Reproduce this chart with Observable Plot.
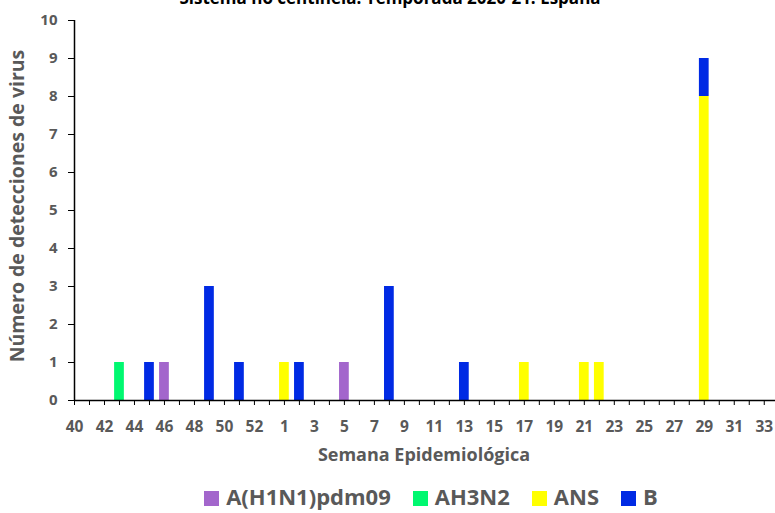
<!DOCTYPE html>
<html>
<head>
<meta charset="utf-8">
<script src="https://cdn.jsdelivr.net/npm/d3@7"></script>
<script src="https://cdn.jsdelivr.net/npm/@observablehq/plot@0.6"></script>
<style>
  html, body { margin: 0; padding: 0; background: #fff; overflow: hidden; }
  #wrap { position: relative; width: 775px; height: 513px; font-family: "Open Sans", sans-serif; }
  #title { position: absolute; top: -14px; left: 0; width: 780px; text-align: center; font-weight: 700; font-size: 17px; color: #000; z-index: 2; }
  #chart { position: absolute; top: 0; left: 0; z-index: 1; }
  #legend { position: absolute; top: 481px; left: 0; width: 862px; text-align: center; font-weight: 700; font-size: 22px; color: #595959; white-space: nowrap; z-index: 2; }
  #legend span.item { display: inline-block; margin: 0 11px; }
  #legend span.sw { display: inline-block; width: 15px; height: 15px; margin-right: 7px; vertical-align: -1px; }
</style>
</head>
<body>
<div id="wrap">
  <div id="title">Sistema no centinela. Temporada 2020-21. España</div>
  <div id="chart"></div>
  <div id="legend"></div>
</div>
<script>
// Semanas epidemiológicas (eje X)
const weeks = [40,41,42,43,44,45,46,47,48,49,50,51,52,53,1,2,3,4,5,6,7,8,9,10,11,12,13,14,15,16,17,18,19,20,21,22,23,24,25,26,27,28,29,30,31,32,33];
// Series
const series = ["A(H1N1)pdm09", "AH3N2", "ANS", "B"];
const colors = ["#A366CC", "#00F870", "#FFFF00", "#002AE4"];
// Detecciones
const detWeek   = [43, 45, 46, 49, 51, 1, 2, 5, 8, 13, 17, 21, 22, 29, 29];
const detSeries = ["AH3N2", "B", "A(H1N1)pdm09", "B", "B", "ANS", "B", "A(H1N1)pdm09", "B", "B", "ANS", "ANS", "ANS", "ANS", "B"];
const detCount  = [1, 1, 1, 3, 1, 1, 1, 1, 3, 1, 1, 1, 1, 8, 1];
const yTicks = [0,1,2,3,4,5,6,7,8,9,10];

const data = detWeek.map((w, k) => ({
  i: weeks.indexOf(w),
  week: w,
  series: detSeries[k],
  value: detCount[k]
}));

const half = 0.325;
const grey = "#595959";

const chart = Plot.plot({
  width: 775,
  height: 470,
  marginTop: 20,
  marginBottom: 70,
  marginLeft: 74,
  marginRight: 0,
  style: { fontFamily: "Open Sans, sans-serif", background: "transparent" },
  x: { type: "linear", domain: [0, 46.75], axis: null },
  y: { domain: [0, 10], axis: null },
  color: { domain: series, range: colors },
  marks: [
    Plot.rectY(data, Plot.stackY({
      x: "i",
      x1: d => d.i - half,
      x2: d => d.i + half,
      y: "value",
      fill: "series",
      order: series
    })),
    Plot.axisY({
      ticks: yTicks,
      tickSize: 6,
      tickPadding: 11,
      tickFormat: d => String(d),
      fontSize: 15,
      fontWeight: 700,
      fill: grey,
      stroke: "#000",
      label: null
    }),
    Plot.axisX({
      ticks: weeks.map((w, i) => i),
      tickSize: 5,
      tickPadding: 15,
      tickFormat: i => (i % 2 === 0 ? String(weeks[i]) : ""),
      fontSize: 15.5,
      fontWeight: 700,
      fill: grey,
      stroke: "#000",
      label: null
    }),
    Plot.ruleY([0], { stroke: "#000", strokeWidth: 1.5 }),
    Plot.ruleX([0], { stroke: "#000", strokeWidth: 1.5 })
  ]
});

const svg = d3.select(chart);
// y-axis title
svg.append("text")
  .attr("transform", "translate(19,206) rotate(-90)")
  .attr("text-anchor", "middle")
  .attr("dominant-baseline", "middle")
  .attr("font-size", 19.5)
  .attr("font-weight", 700)
  .attr("fill", grey)
  .attr("font-family", "Open Sans, sans-serif")
  .text("Número de detecciones de virus");
// x-axis title
svg.append("text")
  .attr("x", 424)
  .attr("y", 456)
  .attr("text-anchor", "middle")
  .attr("dominant-baseline", "middle")
  .attr("font-size", 18)
  .attr("font-weight", 700)
  .attr("fill", grey)
  .attr("font-family", "Open Sans, sans-serif")
  .text("Semana Epidemiológica");

document.getElementById("chart").appendChild(chart);

const legend = document.getElementById("legend");
series.forEach((s, k) => {
  const item = document.createElement("span");
  item.className = "item";
  const sw = document.createElement("span");
  sw.className = "sw";
  sw.style.background = colors[k];
  item.appendChild(sw);
  item.appendChild(document.createTextNode(s));
  legend.appendChild(item);
});
</script>
</body>
</html>
